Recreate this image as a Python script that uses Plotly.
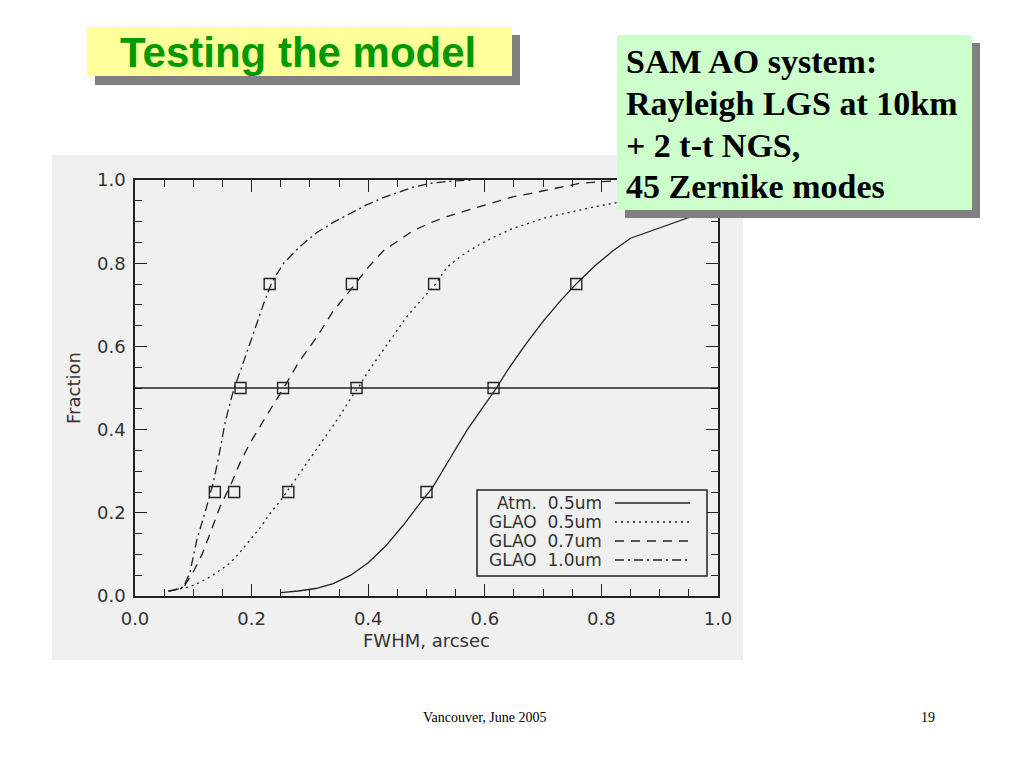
import plotly.graph_objects as go

# ---------------- data ----------------
atm_x = [0.25, 0.28, 0.31, 0.34, 0.37, 0.40, 0.43, 0.46, 0.49, 0.51, 0.54, 0.57, 0.60, 0.62,
         0.64, 0.67, 0.70, 0.73, 0.76, 0.79, 0.82, 0.85, 0.88, 0.91, 0.95, 1.00]
atm_y = [0.008, 0.012, 0.018, 0.030, 0.050, 0.080, 0.120, 0.170, 0.225, 0.260, 0.330, 0.400,
         0.460, 0.500, 0.545, 0.605, 0.660, 0.710, 0.755, 0.795, 0.830, 0.860, 0.875, 0.890,
         0.910, 0.935]

g05_x = [0.057, 0.075, 0.094, 0.110, 0.129, 0.146, 0.163, 0.180, 0.197, 0.215, 0.232, 0.250,
         0.265, 0.290, 0.310, 0.330, 0.350, 0.370, 0.385, 0.400, 0.420, 0.440, 0.466, 0.490,
         0.513, 0.535, 0.560, 0.592, 0.620, 0.649, 0.680, 0.706, 0.735, 0.763, 0.790, 0.820,
         0.860, 0.900, 0.950, 1.000]
g05_y = [0.012, 0.017, 0.022, 0.032, 0.046, 0.062, 0.079, 0.105, 0.135, 0.165, 0.199, 0.230,
         0.260, 0.310, 0.350, 0.390, 0.430, 0.475, 0.505, 0.540, 0.580, 0.620, 0.671, 0.710,
         0.745, 0.790, 0.818, 0.846, 0.866, 0.884, 0.898, 0.910, 0.919, 0.928, 0.936, 0.944,
         0.955, 0.965, 0.975, 0.985]

g07_x = [0.060, 0.083, 0.100, 0.115, 0.129, 0.146, 0.165, 0.180, 0.197, 0.215, 0.235, 0.255,
         0.280, 0.312, 0.340, 0.372, 0.400, 0.426, 0.455, 0.477, 0.505, 0.535, 0.565, 0.592,
         0.620, 0.649, 0.680, 0.706, 0.735, 0.763, 0.790, 0.820, 0.850]
g07_y = [0.012, 0.020, 0.058, 0.100, 0.151, 0.215, 0.270, 0.320, 0.367, 0.410, 0.455, 0.500,
         0.560, 0.623, 0.685, 0.740, 0.790, 0.830, 0.858, 0.878, 0.896, 0.912, 0.925, 0.936,
         0.948, 0.960, 0.968, 0.976, 0.985, 0.992, 0.995, 0.998, 1.000]

g10_x = [0.057, 0.070, 0.083, 0.094, 0.106, 0.116, 0.123, 0.134, 0.143, 0.155, 0.169, 0.183,
         0.197, 0.210, 0.220, 0.235, 0.255, 0.283, 0.310, 0.340, 0.370, 0.397, 0.425, 0.455,
         0.477, 0.506, 0.540, 0.580]
g10_y = [0.012, 0.016, 0.022, 0.055, 0.135, 0.180, 0.215, 0.271, 0.330, 0.420, 0.495, 0.550,
         0.607, 0.660, 0.700, 0.755, 0.800, 0.840, 0.872, 0.898, 0.920, 0.940, 0.957, 0.972,
         0.983, 0.992, 0.997, 1.000]

sq_x = [0.137, 0.170, 0.263, 0.500, 0.181, 0.254, 0.380, 0.615, 0.231, 0.372, 0.513, 0.757]
sq_y = [0.25, 0.25, 0.25, 0.25, 0.50, 0.50, 0.50, 0.50, 0.75, 0.75, 0.75, 0.75]

half_x = [0.0, 1.0]
half_y = [0.5, 0.5]

legend_labels = ["Atm.  0.5um", "GLAO  0.5um", "GLAO  0.7um", "GLAO  1.0um"]
x_ticks = [0.0, 0.2, 0.4, 0.6, 0.8, 1.0]
y_ticks = [0.0, 0.2, 0.4, 0.6, 0.8, 1.0]

title_text = "Testing the model"
box_lines = ["SAM AO system:", "Rayleigh LGS at 10km", "+ 2 t-t NGS,", "45 Zernike modes"]
footer_text = "Vancouver, June 2005"
page_no = "19"

# ---------------- layout helpers (pixel -> paper) ----------------
W, H = 1024, 768
def px(x):
    return x / W
def py(y):
    return 1 - y / H

INK = "#222222"
TXT = "#333333"
IDL_FONT = "DejaVu Sans"
dashes = ["solid", "2px,4px", "9px,7px", "9px,4px,2px,4px"]

fig = go.Figure()
series = [(atm_x, atm_y), (g05_x, g05_y), (g07_x, g07_y), (g10_x, g10_y)]
for (xs, ys), name, d in zip(series, legend_labels, dashes):
    fig.add_trace(go.Scatter(x=xs, y=ys, mode="lines", name=name, showlegend=False,
                             line=dict(color=INK, width=1.3, dash=d)))
fig.add_trace(go.Scatter(x=half_x, y=half_y, mode="lines", showlegend=False,
                         line=dict(color=INK, width=1.3)))
fig.add_trace(go.Scatter(x=sq_x, y=sq_y, mode="markers", showlegend=False,
                         marker=dict(symbol="square-open", size=11, color=INK,
                                     line=dict(width=1.4, color=INK))))

axis_common = dict(range=[0, 1], showline=True, linecolor=INK, linewidth=1.5, mirror="ticks",
                   ticks="inside", ticklen=12, tickwidth=1.3, tickcolor=INK,
                   showgrid=False, zeroline=False, tickformat=".1f", automargin=False,
                   tickfont=dict(family=IDL_FONT, size=18, color=TXT),
                   minor=dict(dtick=0.05, ticks="inside", ticklen=7, tickwidth=1.3,
                              tickcolor=INK, showgrid=False))

shapes = [
    dict(type="rect", xref="paper", yref="paper", x0=px(52), x1=px(743), y0=py(660), y1=py(155),
         fillcolor="#f0f0f0", line=dict(width=0), layer="below"),
    dict(type="rect", xref="paper", yref="paper", x0=px(95), x1=px(520), y0=py(85), y1=py(35),
         fillcolor="#808080", line=dict(width=0), layer="above"),
    dict(type="rect", xref="paper", yref="paper", x0=px(87), x1=px(512), y0=py(76), y1=py(27),
         fillcolor="#ffff99", line=dict(width=0), layer="above"),
    dict(type="rect", xref="paper", yref="paper", x0=px(625), x1=px(980), y0=py(218), y1=py(43),
         fillcolor="#808080", line=dict(width=0), layer="above"),
    dict(type="rect", xref="paper", yref="paper", x0=px(617), x1=px(972), y0=py(210), y1=py(35),
         fillcolor="#ccffcc", line=dict(width=0), layer="above"),
    dict(type="rect", xref="paper", yref="paper", x0=px(477), x1=px(707), y0=py(576), y1=py(490),
         fillcolor="#f0f0f0", line=dict(width=1.5, color=INK), layer="above"),
]
annotations = []
leg_rows = [503, 522, 541, 560]
for lab, d, r in zip(legend_labels, dashes, leg_rows):
    shapes.append(dict(type="line", xref="paper", yref="paper", x0=px(615), x1=px(690),
                       y0=py(r), y1=py(r), line=dict(color=INK, width=1.3, dash=d), layer="above"))
    annotations.append(dict(x=px(604), y=py(r), xref="paper", yref="paper", text=lab,
                            showarrow=False, xanchor="right", yanchor="middle",
                            font=dict(family=IDL_FONT, size=17, color=TXT)))

annotations.append(dict(x=px(298), y=py(52), xref="paper", yref="paper",
                        text="<b>" + title_text + "</b>",
                        showarrow=False, xanchor="center", yanchor="middle",
                        font=dict(family="Liberation Sans", size=42, color="#009900")))
for line, yy in zip(box_lines, [62, 103, 145, 186]):
    annotations.append(dict(x=px(624), y=py(yy), xref="paper", yref="paper",
                            text="<b>" + line + "</b>", showarrow=False,
                            xanchor="left", yanchor="middle",
                            font=dict(family="Liberation Serif", size=34, color="#000000")))
annotations.append(dict(x=px(484), y=py(717), xref="paper", yref="paper", text=footer_text,
                        showarrow=False, xanchor="center", yanchor="middle",
                        font=dict(family="Liberation Serif", size=14, color="#000000")))
annotations.append(dict(x=px(928), y=py(717), xref="paper", yref="paper", text=page_no,
                        showarrow=False, xanchor="center", yanchor="middle",
                        font=dict(family="Liberation Serif", size=14, color="#000000")))

fig.update_layout(
    width=W, height=H, margin=dict(l=0, r=0, t=0, b=0, pad=0, autoexpand=False),
    paper_bgcolor="white", plot_bgcolor="rgba(0,0,0,0)",
    xaxis=dict(domain=[px(135), px(718)], tickvals=x_ticks,
               title=dict(text="FWHM, arcsec", standoff=6,
                          font=dict(family=IDL_FONT, size=18, color=TXT)),
               ticklabelstandoff=6, **axis_common),
    yaxis=dict(domain=[py(596), py(180)], tickvals=y_ticks,
               title=dict(text="Fraction", standoff=12,
                          font=dict(family=IDL_FONT, size=18, color=TXT)),
               ticklabelstandoff=4, **axis_common),
    shapes=shapes, annotations=annotations,
)

fig.write_html("out.html", config={"displayModeBar": False},
               post_script="document.documentElement.style.margin='0';"
                           "document.body.style.margin='0';"
                           "document.body.style.overflow='hidden';")
